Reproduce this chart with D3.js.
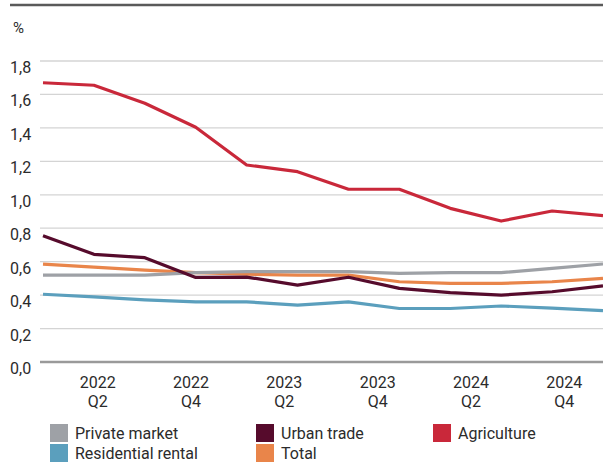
<!DOCTYPE html>
<html><head><meta charset="utf-8">
<script src="https://cdn.jsdelivr.net/npm/d3@7"></script>
<style>
body{margin:0;background:#fff;}
text{font-family:Roboto, "Noto Sans", sans-serif;fill:#2b2b2b;}
</style></head>
<body><svg id="c" width="603" height="465"></svg>
<script>
const quarters = ["2022 Q1","2022 Q2","2022 Q3","2022 Q4","2023 Q1","2023 Q2","2023 Q3","2023 Q4","2024 Q1","2024 Q2","2024 Q3","2024 Q4"];
const tickLabels = [["2022","Q2"],["2022","Q4"],["2023","Q2"],["2023","Q4"],["2024","Q2"],["2024","Q4"]];
const yTicks = [0,0.2,0.4,0.6,0.8,1.0,1.2,1.4,1.6,1.8];
const privateMarket = [0.52,0.52,0.52,0.535,0.54,0.54,0.54,0.53,0.534,0.534,0.56,0.586];
const residentialRental = [0.405,0.39,0.372,0.36,0.36,0.34,0.36,0.32,0.32,0.335,0.322,0.307];
const urbanTrade = [0.755,0.644,0.624,0.506,0.508,0.46,0.507,0.44,0.415,0.40,0.42,0.455];
const total = [0.585,0.567,0.55,0.535,0.525,0.52,0.52,0.48,0.47,0.47,0.48,0.50];
const agriculture = [1.67,1.655,1.547,1.404,1.178,1.138,1.033,1.033,0.919,0.843,0.903,0.875];
const seriesNames = ["Private market","Urban trade","Agriculture","Residential rental","Total"];
const colors = {"Private market":"#9ea1a6","Urban trade":"#560b2c","Agriculture":"#c9283a","Residential rental":"#5b9fbd","Total":"#e9854a"};
const seriesData = {"Private market":privateMarket,"Urban trade":urbanTrade,"Agriculture":agriculture,"Residential rental":residentialRental,"Total":total};

const svg = d3.select("#c");
const x = d3.scalePoint().domain(quarters).range([43,603]);
const xl = d3.scaleBand().domain(tickLabels.map(d=>d.join(" "))).range([51,611]);
const y = d3.scaleLinear().domain([0,1.8]).range([362,61]);

// top rule
svg.append("line").attr("x1",10).attr("x2",603).attr("y1",5).attr("y2",5).attr("stroke","#5a5a5a").attr("stroke-width",2.5);
svg.append("text").attr("x",13).attr("y",33).attr("font-size",15).text("%");

// grid
svg.selectAll("line.g").data(yTicks).enter().append("line")
  .attr("x1",40).attr("x2",603).attr("y1",d=>y(d)).attr("y2",d=>y(d))
  .attr("stroke",d=>d===0?"#9a9a9a":"#d4d4d4").attr("stroke-width",d=>d===0?2.5:1.3);
svg.selectAll("text.yl").data(yTicks).enter().append("text")
  .attr("x",10).attr("y",d=>y(d)+12).attr("font-size",16)
  .text(d=>d3.format(".1f")(d).replace(".",","));

// x labels
const xg = svg.selectAll("g.xl").data(tickLabels).enter().append("g");
xg.append("text").attr("x",d=>xl(d.join(" "))+xl.bandwidth()/2).attr("y",388).attr("text-anchor","middle").attr("font-size",16).text(d=>d[0]);
xg.append("text").attr("x",d=>xl(d.join(" "))+xl.bandwidth()/2).attr("y",407).attr("text-anchor","middle").attr("font-size",16).text(d=>d[1]);

// lines
const line = d3.line().x((d,i)=>x(quarters[i])).y(d=>y(d));
const drawOrder = ["Residential rental","Total","Private market","Urban trade","Agriculture"];
drawOrder.forEach(n=>{
  svg.append("path").datum(seriesData[n]).attr("d",line).attr("fill","none")
    .attr("stroke",colors[n]).attr("stroke-width",3.2).attr("stroke-linejoin","round");
});

// legend
const legCols = [50,256,433];
seriesNames.forEach((n,i)=>{
  const col = i%3, row = Math.floor(i/3);
  const g = svg.append("g").attr("transform",`translate(${legCols[col]},${424+row*20})`);
  g.append("rect").attr("width",18).attr("height",18).attr("fill",colors[n]);
  g.append("text").attr("x",25).attr("y",15).attr("font-size",16).text(n);
});
</script></body></html>
